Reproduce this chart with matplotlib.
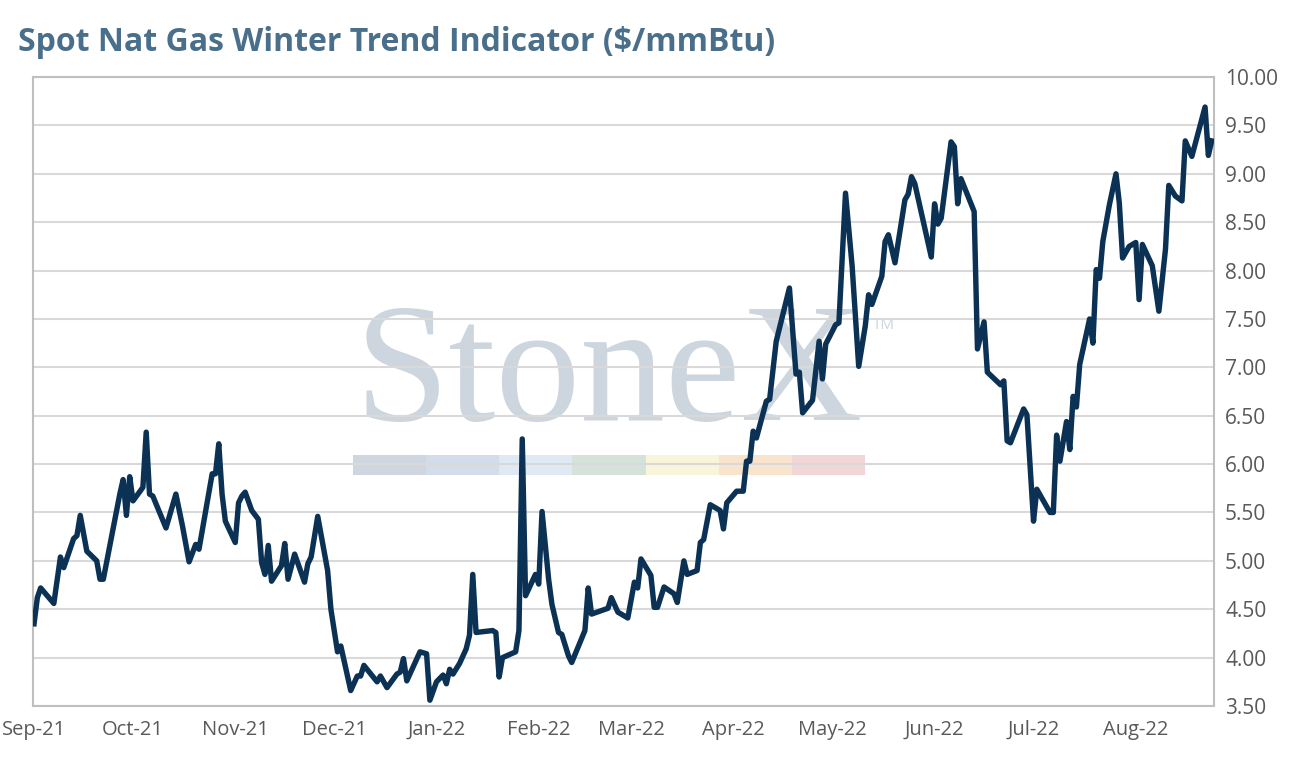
"""
Spot Nat Gas Winter Trend Indicator chart -> out.png
"""
import pandas as pd
import matplotlib
matplotlib.use("Agg")
import matplotlib.pyplot as plt
import matplotlib.dates as mdates
from matplotlib.patches import Rectangle

# data: days since 2021-09-01, $/mmBtu
START = pd.Timestamp("2021-09-01")
DAYS = [0, 1, 2, 6, 8, 9, 12, 13, 14, 16, 19, 20, 21, 26, 27, 28, 29, 30, 33, 34,
        35, 36, 40, 43, 45, 47, 49, 50, 54, 55, 56, 57, 58, 61, 62, 63, 64, 66, 68, 69,
        70, 71, 72, 75, 76, 77, 79, 82, 83, 84, 86, 89, 90, 92, 93, 96, 98, 99, 100, 104,
        105, 107, 110, 111, 112, 113, 117, 119, 120, 122, 124, 125, 126, 127, 129, 131, 132, 133, 134, 139,
        140, 141, 142, 146, 147, 148, 149, 152, 153, 154, 156, 157, 159, 160, 162, 163, 167, 168, 169, 174,
        175, 177, 180, 182, 183, 184, 187, 188, 189, 191, 194, 195, 197, 198, 201, 202, 203, 205, 208, 209,
        210, 213, 215, 216, 217, 218, 219, 222, 223, 225, 229, 231, 232, 233, 236, 238, 239, 240, 243, 244,
        246, 248, 250, 252, 253, 254, 257, 258, 259, 261, 264, 265, 266, 267, 272, 273, 274, 275, 278, 279,
        280, 281, 285, 286, 288, 289, 293, 294, 295, 296, 300, 301, 303, 304, 308, 309, 310, 311, 313, 314,
        315, 316, 317, 320, 321, 322, 323, 324, 326, 328, 329, 330, 332, 334, 335, 336, 339, 341, 343, 344,
        346, 348, 349, 351, 355, 356, 357]
PRICE = [4.35, 4.62, 4.72, 4.56, 5.04, 4.93, 5.23, 5.26, 5.47, 5.10, 5.00, 4.81, 4.81, 5.69, 5.84, 5.47, 5.87, 5.62, 5.76, 6.33,
         5.69, 5.67, 5.34, 5.69, 5.36, 4.99, 5.17, 5.12, 5.90, 5.90, 6.21, 5.69, 5.41, 5.19, 5.60, 5.67, 5.71, 5.52, 5.43, 4.98,
         4.86, 5.16, 4.79, 4.95, 5.18, 4.81, 5.07, 4.78, 4.97, 5.04, 5.46, 4.90, 4.50, 4.06, 4.12, 3.66, 3.81, 3.81, 3.92, 3.75,
         3.81, 3.69, 3.83, 3.85, 3.99, 3.76, 4.06, 4.04, 3.56, 3.75, 3.82, 3.73, 3.88, 3.83, 3.94, 4.09, 4.23, 4.86, 4.26, 4.28,
         4.26, 3.80, 4.00, 4.06, 4.28, 6.26, 4.64, 4.86, 4.76, 5.51, 4.81, 4.55, 4.26, 4.24, 4.02, 3.95, 4.28, 4.72, 4.45, 4.51,
         4.62, 4.47, 4.41, 4.78, 4.72, 5.02, 4.85, 4.52, 4.52, 4.73, 4.66, 4.57, 5.00, 4.86, 4.90, 5.19, 5.22, 5.58, 5.52, 5.33,
         5.60, 5.72, 5.72, 6.03, 6.03, 6.34, 6.27, 6.65, 6.67, 7.27, 7.82, 6.93, 6.95, 6.53, 6.66, 7.27, 6.88, 7.24, 7.44, 7.46,
         8.80, 8.05, 7.01, 7.43, 7.75, 7.65, 7.94, 8.30, 8.37, 8.08, 8.73, 8.79, 8.97, 8.90, 8.14, 8.69, 8.48, 8.54, 9.33, 9.28,
         8.69, 8.95, 8.61, 7.19, 7.47, 6.95, 6.82, 6.86, 6.24, 6.22, 6.57, 6.51, 5.41, 5.74, 5.50, 5.50, 6.30, 6.03, 6.44, 6.15,
         6.70, 6.59, 7.03, 7.50, 7.25, 8.01, 7.92, 8.30, 8.68, 9.00, 8.70, 8.13, 8.25, 8.29, 7.70, 8.27, 8.05, 7.58, 8.22, 8.88,
         8.77, 8.72, 9.34, 9.18, 9.69, 9.19, 9.34]

TITLE = "Spot Nat Gas Winter Trend Indicator ($/mmBtu)"
Y_TICKS = [3.5 + 0.5 * i for i in range(14)]
WM_COLORS = ["#cfd6df", "#d3dde9", "#dfe9f3", "#d4e2da", "#f8f5da", "#f8e3cd", "#f2d5d6"]

LINE = "#0b3254"
GRID = "#d9d9d9"
SPINE = "#bfbfbf"
TXT = "#595959"

plt.rcParams["font.family"] = ["Open Sans", "DejaVu Sans"]

dates = START + pd.to_timedelta(DAYS, unit="D")

fig = plt.figure(figsize=(12.92, 7.68), dpi=100)
ax = fig.add_axes([0.0255, 0.0807, 0.9141, 0.819])

# StoneX watermark sits behind grid and line
ax.text(0.2727, 0.4547, "StoneX", transform=ax.transAxes, family="Liberation Serif",
        fontsize=122, color="#cdd5de", ha="left", va="baseline", zorder=0.1)
ax.text(0.711, 0.593, "TM", transform=ax.transAxes, fontsize=11, color="#cdd5de",
        ha="left", va="bottom", zorder=0.1)
seg_w = 0.4335 / len(WM_COLORS)
for i, c in enumerate(WM_COLORS):
    ax.add_patch(Rectangle((0.2710 + i * seg_w, 0.367), seg_w, 0.032, transform=ax.transAxes,
                           facecolor=c, edgecolor="none", zorder=0.1))

ax.plot(dates, PRICE, color=LINE, lw=3.9, solid_joinstyle="round", zorder=3)

ax.set_ylim(3.5, 10.0)
ax.set_yticks(Y_TICKS)
ax.yaxis.set_major_formatter(matplotlib.ticker.FormatStrFormatter("%.2f"))
ax.yaxis.tick_right()
ax.set_xlim(START - pd.Timedelta(hours=8), START + pd.Timedelta(days=357.7))
ax.xaxis.set_major_locator(mdates.MonthLocator())
ax.xaxis.set_major_formatter(mdates.DateFormatter("%b-%y"))

ax.grid(axis="y", color=GRID, lw=1.5)
ax.set_axisbelow(True)
ax.tick_params(length=0, labelsize=14.5, labelcolor=TXT)
ax.tick_params(axis="y", pad=8, labelsize=15)
ax.tick_params(axis="x", pad=10)
for s in ax.spines.values():
    s.set_color(SPINE)
    s.set_linewidth(1.5)

fig.text(0.014, 0.945, TITLE, fontsize=23, fontweight="bold", color="#4a6f8b",
         ha="left", va="center")

fig.savefig("out.png", dpi=100)
